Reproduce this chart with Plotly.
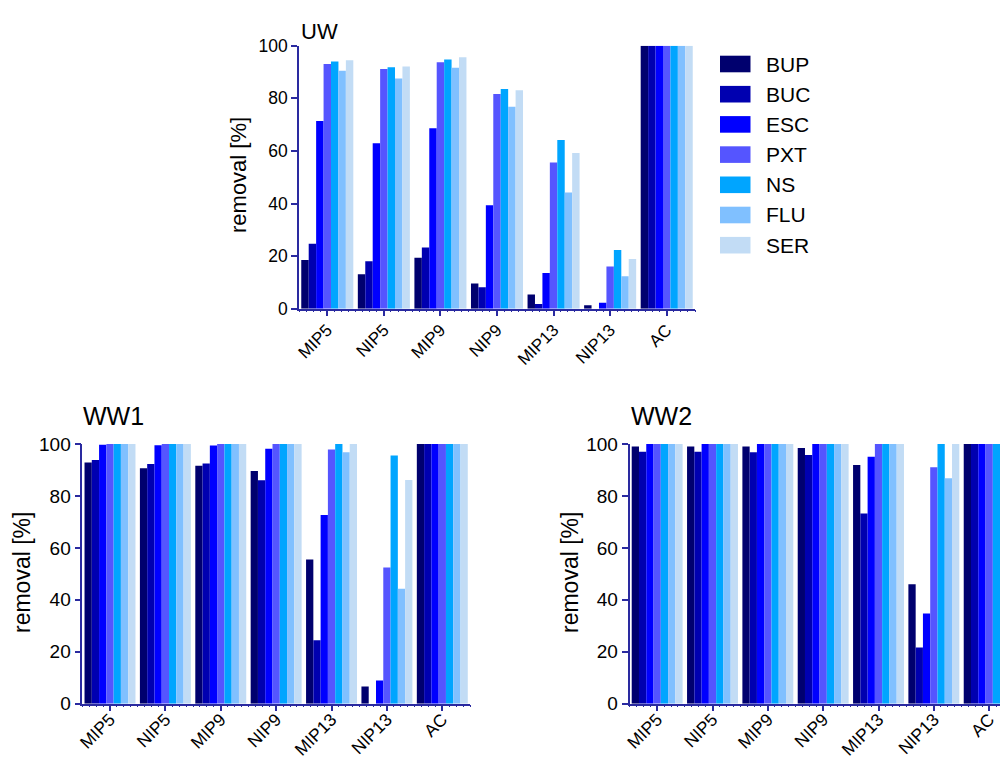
import plotly.graph_objects as go

categories = ["MIP5", "NIP5", "MIP9", "NIP9", "MIP13", "NIP13", "AC"]
series = ["BUP", "BUC", "ESC", "PXT", "NS", "FLU", "SER"]
colors = ["#00006e", "#0000b0", "#0000ff", "#5555ff", "#00a5ff", "#80c0ff", "#c2dcf5"]

# values per series (one list per series, across categories)
uw = {
    "BUP": [18.5, 13.1, 19.4, 9.6, 5.4, 1.3, 100],
    "BUC": [24.7, 18.0, 23.3, 8.2, 1.8, 0.0, 100],
    "ESC": [71.4, 62.9, 68.6, 39.3, 13.6, 2.3, 100],
    "PXT": [93.0, 91.1, 93.7, 81.6, 55.6, 16.0, 100],
    "NS":  [94.0, 91.8, 94.8, 83.5, 64.1, 22.3, 100],
    "FLU": [90.5, 87.5, 91.6, 76.8, 44.2, 12.3, 100],
    "SER": [94.5, 92.1, 95.6, 83.1, 59.2, 18.9, 100],
}
ww1 = {
    "BUP": [92.9, 90.7, 91.6, 89.6, 55.5, 6.6, 100],
    "BUC": [93.8, 92.3, 92.5, 86.0, 24.4, 0.0, 100],
    "ESC": [99.7, 99.5, 99.4, 98.2, 72.7, 8.9, 100],
    "PXT": [100, 100, 100, 100, 97.9, 52.4, 100],
    "NS":  [100, 100, 100, 100, 100, 95.6, 100],
    "FLU": [100, 100, 100, 100, 96.8, 44.3, 100],
    "SER": [100, 100, 100, 100, 100, 86.1, 100],
}
ww2 = {
    "BUP": [99.0, 99.0, 99.0, 98.5, 91.9, 46.0, 100],
    "BUC": [97.0, 97.0, 96.8, 95.8, 73.2, 21.6, 100],
    "ESC": [100, 100, 100, 100, 95.1, 34.7, 100],
    "PXT": [100, 100, 100, 100, 100, 91.0, 100],
    "NS":  [100, 100, 100, 100, 100, 100, 100],
    "FLU": [100, 100, 100, 100, 100, 86.8, 100],
    "SER": [100, 100, 100, 100, 100, 100, 100],
}
panel_titles = ["UW", "WW1", "WW2"]
y_ticks = [0, 20, 40, 60, 80, 100]
y_title = "removal [%]"

# the page places the figure 8 px from the window's top-left corner
OFF = 8
W, H = 1008 - OFF, 760 - OFF
AXC = "#2a2aa0"
FONT = "Arial, Liberation Sans, sans-serif"

def px(x):
    return (x - OFF) / W

def py(y):
    return 1 - (y - OFF) / H

fig = go.Figure()
x_idx = list(range(len(categories)))
for data, ax in [(uw, ""), (ww1, "2"), (ww2, "3")]:
    for s, c in zip(series, colors):
        fig.add_trace(go.Bar(
            x=x_idx, y=data[s], name=s, marker=dict(color=c, line=dict(width=0)),
            xaxis="x" + ax, yaxis="y" + ax, showlegend=False,
            offsetgroup=s,
        ))

def xaxis(dom, anchor, rng, fs, standoff):
    return dict(domain=dom, anchor=anchor, range=rng, tickmode="array", automargin=False,
                tickvals=x_idx, ticktext=categories, tickangle=-45,
                ticklabelstandoff=standoff,
                showline=True, linecolor=AXC, linewidth=1.5, ticks="outside",
                ticklen=6, tickwidth=1.5, tickcolor=AXC, showgrid=False, zeroline=False,
                tickfont=dict(family=FONT, size=fs, color="black"),
                minor=dict(ticks="outside", tick0=-0.5, dtick=0.125, ticklen=2,
                           tickcolor=AXC, tickwidth=1, showgrid=False))

def yaxis(dom, anchor, fs):
    return dict(domain=dom, anchor=anchor, range=[0, 100], tickmode="array", automargin=False,
                tickvals=y_ticks, showline=True, linecolor=AXC, linewidth=1.5,
                ticks="outside", ticklen=6, tickwidth=1.5, tickcolor=AXC,
                showgrid=False, zeroline=False,
                tickfont=dict(family=FONT, size=fs, color="black"))

uw_x = [px(299), px(695)]
uw_y = [py(308.7), py(45.7)]
ww_y = [py(703.7), py(444)]
ww1_x = [px(82.3), px(470)]
ww2_x = [px(629.5), 1.0]

fig.update_layout(
    width=W, height=H, margin=dict(l=0, r=0, t=0, b=0, autoexpand=False),
    paper_bgcolor="white", plot_bgcolor="white",
    barmode="group", bargap=0.08, bargroupgap=0,
    xaxis=xaxis(uw_x, "y", [-0.5, 6.5], 17, -3),
    yaxis=yaxis(uw_y, "x", 17.5),
    xaxis2=xaxis(ww1_x, "y2", [-0.5, 6.5], 17.5, -9),
    yaxis2=yaxis(ww_y, "x2", 19),
    xaxis3=xaxis(ww2_x, "y3", [-0.5, 6.34], 17.5, -9),
    yaxis3=yaxis(ww_y, "x3", 19),
    showlegend=False,
    font=dict(family=FONT),
)

# y-axis titles
for xp, yp, fs in [(239, 175, 22), (22, 573, 23), (570, 573, 23)]:
    fig.add_annotation(text=y_title, x=px(xp), y=py(yp), xref="paper", yref="paper",
                       xanchor="center", yanchor="middle", textangle=-90, showarrow=False,
                       font=dict(family=FONT, size=fs, color="black"))

# panel titles
for t, (xp, yp, fs) in zip(panel_titles, [(299, 32, 22), (81, 416, 25), (629, 416, 25)]):
    fig.add_annotation(text=t, x=px(xp), y=py(yp), xref="paper", yref="paper",
                       xanchor="left", yanchor="middle", showarrow=False,
                       font=dict(family=FONT, size=fs, color="black"))

# legend (manual, to match the wide swatches)
for i, (s, c) in enumerate(zip(series, colors)):
    yc = 64 + i * 30.2
    fig.add_shape(type="rect", xref="paper", yref="paper",
                  x0=px(720), x1=px(750.5), y0=py(yc - 8.3), y1=py(yc + 8.3),
                  fillcolor=c, line=dict(width=0))
    fig.add_annotation(text=s, x=px(764), y=py(yc), xref="paper", yref="paper",
                       xanchor="left", yanchor="middle", showarrow=False,
                       font=dict(family=FONT, size=21, color="black"))

fig.write_html("out.html")
